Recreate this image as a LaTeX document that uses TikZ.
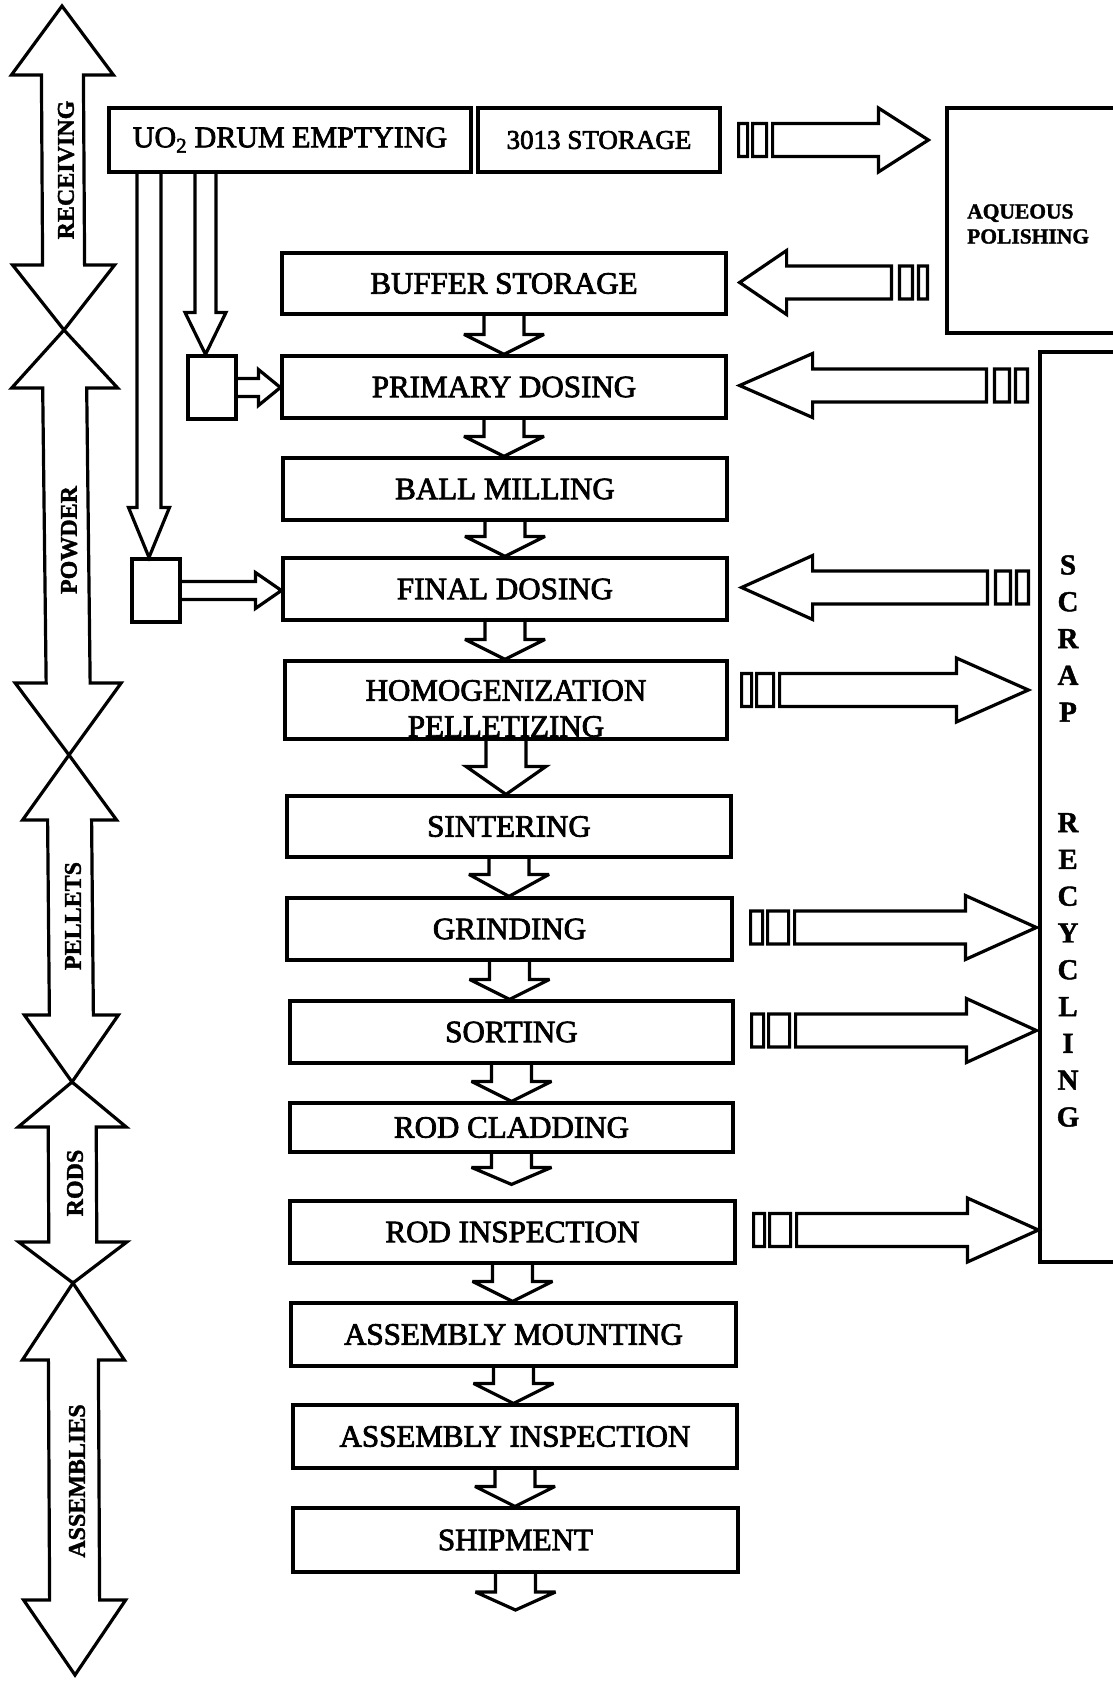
\documentclass[tikz,border=0pt]{standalone}
\usepackage{fontspec}
\setmainfont{Liberation Serif}
\newfontfamily\heavyserif{Liberation Serif}[FakeBold=2.5]
\newfontfamily\heavybold{Liberation Serif}[BoldFont={Liberation Serif Bold}, BoldFeatures={FakeBold=1.5}]
\usetikzlibrary{calc}
% big double arrow between two tips
\newcommand\mkBig[8]{%
 \pgfmathsetmacro\bas{(#3-#1)/(#4-#2)}%
 \pgfmathsetmacro\bxa{#1+\bas*#5}%
 \pgfmathsetmacro\bxb{#3-\bas*#6}%
 \pgfmathsetmacro\bya{#2+#5}%
 \pgfmathsetmacro\byb{#4-#6}%
 \draw[ln] (#1,#2) -- (\bxa+#8,\bya) -- (\bxa+#7,\bya) -- (\bxb+#7,\byb) -- (\bxb+#8,\byb) -- (#3,#4)
   -- (\bxb-#8,\byb) -- (\bxb-#7,\byb) -- (\bxa-#7,\bya) -- (\bxa-#8,\bya) -- cycle;}
% down block arrow: from anchor, to anchor, head length, tip gap
\newcommand\mkDown[4]{%
 \draw[ln] let \p1=(#1), \p2=(#2) in
  (\x1-20pt,\y1) -- (\x1-20pt,\y2+#4pt+#3pt) -- (\x1-40pt,\y2+#4pt+#3pt) -- (\x1,\y2+#4pt)
  -- (\x1+40pt,\y2+#4pt+#3pt) -- (\x1+20pt,\y2+#4pt+#3pt) -- (\x1+20pt,\y1);}
% right block arrow with two bars
\newcommand\mkRight[8]{%
 \draw[ln] let \p1=(#1.east), \p2=(#2.west), \p3=(0,#3) in
  (\x1+#4pt,\y3-16.5pt) rectangle (\x1+#4pt+#6pt,\y3+16.5pt)
  (\x1+#4pt+#6pt+5pt,\y3-16.5pt) rectangle (\x1+#4pt+#6pt+5pt+#7pt,\y3+16.5pt)
  (\x1+#4pt+#6pt+#7pt+11pt,\y3-16.5pt) -- (\x2-#5pt-#8pt,\y3-16.5pt) -- (\x2-#5pt-#8pt,\y3-32pt)
  -- (\x2-#5pt,\y3) -- (\x2-#5pt-#8pt,\y3+32pt) -- (\x2-#5pt-#8pt,\y3+16.5pt)
  -- (\x1+#4pt+#6pt+#7pt+11pt,\y3+16.5pt) -- cycle;}
% left block arrow with two bars
\newcommand\mkLeft[8]{%
 \draw[ln] let \p1=(#1.west), \p2=(#2.east), \p3=(0,#3) in
  (\x1-#4pt,\y3-16.5pt) rectangle (\x1-#4pt-#6pt,\y3+16.5pt)
  (\x1-#4pt-#6pt-6pt,\y3-16.5pt) rectangle (\x1-#4pt-#6pt-6pt-#7pt,\y3+16.5pt)
  (\x1-#4pt-#6pt-#7pt-14pt,\y3-16.5pt) -- (\x2+#5pt+#8pt,\y3-16.5pt) -- (\x2+#5pt+#8pt,\y3-32pt)
  -- (\x2+#5pt,\y3) -- (\x2+#5pt+#8pt,\y3+32pt) -- (\x2+#5pt+#8pt,\y3+16.5pt)
  -- (\x1-#4pt-#6pt-#7pt-14pt,\y3+16.5pt) -- cycle;}
% vertical narrow block arrow: from node, to node, x centre, shaft half, head half, head length
\newcommand\mkVpair[6]{%
 \draw[ln] let \p1=(#1.south), \p2=(#2.north), \p3=(#3,0) in
  (\x3-#4pt,\y1) -- (\x3-#4pt,\y2+#6pt) -- (\x3-#5pt,\y2+#6pt) -- (\x3,\y2)
  -- (\x3+#5pt,\y2+#6pt) -- (\x3+#4pt,\y2+#6pt) -- (\x3+#4pt,\y1);}
% small horizontal block arrow
\newcommand\mkHsmall[3]{%
 \draw[ln] let \p1=(#1.east), \p2=(#2.west) in
  (\x1,\y1+9pt) -- (\x2-#3pt,\y1+9pt) -- (\x2-#3pt,\y1+18pt) -- (\x2,\y1)
  -- (\x2-#3pt,\y1-18pt) -- (\x2-#3pt,\y1-9pt) -- (\x1,\y1-9pt);}
\begin{document}
\begin{tikzpicture}[x=1pt,y=-1pt,
  ln/.style={line width=3.2pt, line join=miter, miter limit=4},
  box/.style={draw, line width=3.2pt, inner sep=0pt, font=\heavyserif\fontsize{31}{36}\selectfont},
  sbox/.style={draw, line width=3.2pt, inner sep=0pt, minimum width=48pt, minimum height=63pt},
  side/.style={font=\heavybold\bfseries\fontsize{24}{26}\selectfont, rotate=90, inner sep=0pt}]
\fill[white] (0,0) rectangle (1112,1681);
\useasboundingbox (0,0) rectangle (1112,1681);

% left phase arrows
\mkBig{62}{6}{64}{330}{69}{65}{21}{51}
\mkBig{64}{330}{69}{755}{58}{72}{22}{53}
\mkBig{69}{755}{72}{1082}{65}{67}{22}{47}
\mkBig{72}{1082}{73}{1283}{45}{41}{24}{54}
\mkBig{73}{1283}{75}{1675}{77}{75}{25}{51}
\node[side] (lrec) at (66,170) {RECEIVING};
\node[side] (lpow) at (69,540) {POWDER};
\node[side] (lpel) at (73,916) {PELLETS};
\node[side] (lrod) at (75,1183) {RODS};
\node[side] (lass) at (77,1481) {ASSEMBLIES};

% top boxes
\node[box, minimum width=362pt, minimum height=64pt, font=\heavyserif\fontsize{30}{34}\selectfont] (uo2) at (290,140) {UO\textsubscript{2} DRUM EMPTYING};
\node[box, minimum width=242pt, minimum height=64pt, font=\heavyserif\fontsize{27}{30}\selectfont] (s3013) at (599,140) {3013 STORAGE};
\node[box, minimum width=200pt, minimum height=225pt] (aq) at (1047,220.5) {};
\node[font=\heavybold\bfseries\fontsize{21.5}{25}\selectfont, align=left, anchor=west, inner sep=0pt] (aqtext) at (967,224) {AQUEOUS\\POLISHING};
\node[box, minimum width=100pt, minimum height=910pt] (scrap) at (1090,807) {};
\node[font=\heavybold\bfseries\fontsize{29}{36.8}\selectfont, align=center, inner sep=0pt] (scraptext) at (1068,841)
  {S\\C\\R\\A\\P\\[73.6pt]R\\E\\C\\Y\\C\\L\\I\\N\\G};

% main chain
\node[box, minimum width=444pt, minimum height=61pt] (buffer) at (504,283.5) {BUFFER STORAGE};
\node[box, minimum width=444pt, minimum height=62pt] (primary) at (504,387) {PRIMARY DOSING};
\node[box, minimum width=444pt, minimum height=62pt] (ball) at (505,489) {BALL MILLING};
\node[box, minimum width=444pt, minimum height=62pt] (final) at (505,589) {FINAL DOSING};
\node[box, minimum width=442pt, minimum height=78pt] (homog) at (506,700) {};
\node[font=\heavyserif\fontsize{31}{36}\selectfont, align=center, inner sep=0pt] (homogtext) at (506,708.5) {HOMOGENIZATION\\PELLETIZING};
\node[box, minimum width=444pt, minimum height=61pt] (sinter) at (509,826.5) {SINTERING};
\node[box, minimum width=445pt, minimum height=62pt] (grind) at (509.5,929) {GRINDING};
\node[box, minimum width=443pt, minimum height=62pt] (sort) at (511.5,1032) {SORTING};
\node[box, minimum width=443pt, minimum height=49pt] (rodclad) at (511.5,1127.5) {ROD CLADDING};
\node[box, minimum width=445pt, minimum height=62pt] (rodinsp) at (512.5,1232) {ROD INSPECTION};
\node[box, minimum width=445pt, minimum height=63pt] (asmmount) at (513.5,1334.5) {ASSEMBLY MOUNTING};
\node[box, minimum width=444pt, minimum height=63pt] (asminsp) at (515,1436.5) {ASSEMBLY INSPECTION};
\node[box, minimum width=445pt, minimum height=64pt] (ship) at (515.5,1540) {SHIPMENT};
\coordinate (shipend) at (515.5,1610);

% small dosing boxes
\node[sbox] (psmall) at (212,387.5) {};
\node[sbox] (fsmall) at (156,590.5) {};

% connectors
\mkVpair{uo2}{psmall}{205.5}{10.5}{20.5}{42}
\mkVpair{uo2}{fsmall}{149}{12}{20.5}{50}
\mkHsmall{psmall}{primary}{22}
\mkHsmall{fsmall}{final}{26}

\mkDown{buffer.south}{primary.north}{20}{0}
\mkDown{primary.south}{ball.north}{20}{0}
\mkDown{ball.south}{final.north}{20}{0}
\mkDown{final.south}{homog.north}{20}{0}
\mkDown{homog.south}{sinter.north}{28}{0}
\mkDown{sinter.south}{grind.north}{22}{0}
\mkDown{grind.south}{sort.north}{20}{0}
\mkDown{sort.south}{rodclad.north}{20}{0}
\mkDown{rodclad.south}{rodinsp.north}{17}{15}
\mkDown{rodinsp.south}{asmmount.north}{20}{0}
\mkDown{asmmount.south}{asminsp.north}{20}{0}
\mkDown{asminsp.south}{ship.north}{20}{0}
\mkDown{ship.south}{shipend}{18}{0}

\mkRight{s3013}{aq}{140}{17}{17}{9}{14}{50}
\mkRight{homog}{scrap}{690}{13}{10}{10}{17}{72}
\mkRight{grind}{scrap}{927.5}{17}{2}{12}{21}{71}
\mkRight{sort}{scrap}{1030.5}{17}{2}{12}{21}{70}
\mkRight{rodinsp}{scrap}{1230}{17}{0}{11}{21}{71}
\mkLeft{aq}{buffer}{282.5}{18}{12}{9}{13}{47}
\mkLeft{scrap}{primary}{385.5}{11}{12}{12}{15}{73}
\mkLeft{scrap}{final}{587.5}{10}{13}{12}{15}{71}
\end{tikzpicture}
\end{document}
